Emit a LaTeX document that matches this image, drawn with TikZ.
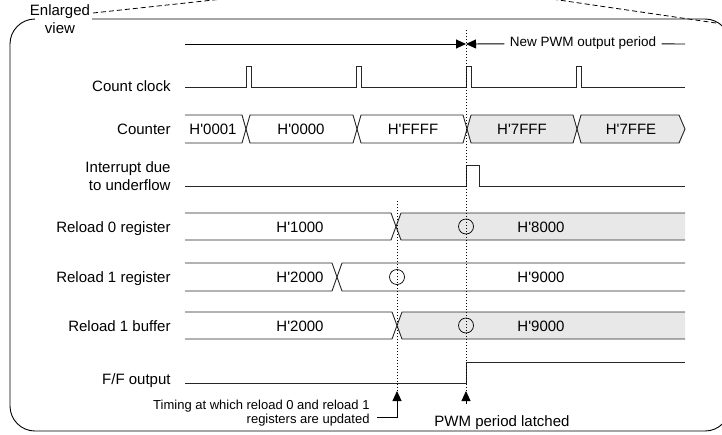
\documentclass[tikz,border=0pt]{standalone}
\usepackage{fontspec}
\setmainfont{Liberation Sans}
\usetikzlibrary{positioning,arrows.meta}

\newcommand{\hx}[1]{H\textquotesingle#1}

\begin{document}
\begin{tikzpicture}[x=1pt, y=-1pt, line width=0.9pt,
    every node/.style={font=\fontsize{15}{18}\selectfont, inner sep=0pt},
    sig/.style={draw=black!85},
    busfill/.style={fill=black!9},
    marker/.style={dash pattern=on 1pt off 2pt, line width=0.8pt},
    zoomline/.style={dash pattern=on 5pt off 3pt, line width=0.8pt},
    ring/.style={circle, draw, line width=0.7pt, minimum size=15pt},
    tip/.style={-{Triangle[length=10pt,width=9pt]}},
    rowlabel/.style={anchor=base east, align=right}]

    \useasboundingbox (0,0) rectangle (722,434);

    % frame
    \draw[rounded corners=25] (35,19) -- (10,19) -- (10,431) -- (730,431) -- (730,19) -- (92,19);
    \node[align=center] (enl) at (60,19) {Enlarged\\view};
    \coordinate (zl1) at (93,13);
    \coordinate (zl2) at (232,-2);
    \coordinate (zr1) at (545,-2);
    \coordinate (zr2) at (716,23);
    \draw[zoomline] (zl1) -- (zl2);
    \draw[zoomline] (zr1) -- (zr2);

    % row labels
    \node[rowlabel] (clk) at (171,91.5) {Count clock};
    \node[rowlabel] (cnt) at (171,134.5) {Counter};
    \node[anchor=east, align=right] (irq) at (171,176) {Interrupt due\\to underflow};
    \node[rowlabel] (rl0) at (171,232.5) {Reload 0 register};
    \node[rowlabel] (rl1) at (171,282.5) {Reload 1 register};
    \node[rowlabel] (buf) at (171,331.5) {Reload 1 buffer};
    \node[rowlabel] (ff) at (171,384.5) {F/F output};

    % new period
    \coordinate (pstart) at (185,44);
    \coordinate (pmark) at (466,44);
    \coordinate (pend) at (685,44);
    \node[inner xsep=5pt, font=\fontsize{13.5}{16}\selectfont] (newper) at (583,43.5) {New PWM output period};
    \draw[tip] (pstart) -- (pmark);
    \draw[tip] (newper) -- (pmark);
    \draw (newper) -- (pend);

    % count clock
    \draw[sig] (185,87) -| (246,66) -| (251,87) -| (356,66) -| (361,87) -| (466,66) -| (471,87)
        -| (576,66) -| (581,87) -- (685,87);

    % counter
    \fill[busfill] (471,115) -- (573,115) -- (577,129) -- (573,143) -- (471,143) -- (467,129) -- cycle;
    \fill[busfill] (581,115) -- (679,115) -- (685,129) -- (679,143) -- (581,143) -- (577,129) -- cycle;
    \draw[sig] (185,115) -- (242,115) -- (246,129) -- (242,143) -- (185,143);
    \draw[sig] (250,115) -- (353,115) -- (357,129) -- (353,143) -- (250,143) -- (246,129) -- cycle;
    \draw[sig] (361,115) -- (463,115) -- (467,129) -- (463,143) -- (361,143) -- (357,129) -- cycle;
    \draw[sig] (471,115) -- (573,115) -- (577,129) -- (573,143) -- (471,143) -- (467,129) -- cycle;
    \draw[sig] (581,115) -- (679,115) -- (685,129) -- (679,143) -- (581,143) -- (577,129) -- cycle;
    \node[anchor=base] (c1) at (213,134.5) {\hx{0001}};
    \node[anchor=base] (c2) at (301,134.5) {\hx{0000}};
    \node[anchor=base] (c3) at (413,134.5) {\hx{FFFF}};
    \node[anchor=base] (c4) at (522,134.5) {\hx{7FFF}};
    \node[anchor=base] (c5) at (631,134.5) {\hx{7FFE}};

    % interrupt
    \draw[sig] (185,186) -| (466,165) -| (479,186) -- (685,186);

    % reload 0 register
    \fill[busfill] (401,213) -- (685,213) -- (685,240) -- (401,240) -- (396,226.5) -- cycle;
    \draw[sig] (185,213) -- (391,213) -- (401,240) -- (685,240);
    \draw[sig] (185,240) -- (391,240) -- (401,213) -- (685,213);
    \node[anchor=base] (r0a) at (300,232) {\hx{1000}};
    \node[anchor=base] (r0b) at (541,232) {\hx{8000}};

    % reload 1 register
    \draw[sig] (185,263) -- (332,263) -- (342,291) -- (685,291);
    \draw[sig] (185,291) -- (332,291) -- (342,263) -- (685,263);
    \node[anchor=base] (r1a) at (300,282.5) {\hx{2000}};
    \node[anchor=base] (r1b) at (541,282.5) {\hx{9000}};

    % reload 1 buffer
    \fill[busfill] (402,312) -- (685,312) -- (685,339) -- (402,339) -- (397,325.5) -- cycle;
    \draw[sig] (185,312) -- (392,312) -- (402,339) -- (685,339);
    \draw[sig] (185,339) -- (392,339) -- (402,312) -- (685,312);
    \node[anchor=base] (b1a) at (300,331) {\hx{2000}};
    \node[anchor=base] (b1b) at (541,331) {\hx{9000}};

    % F/F output
    \draw[sig] (185,383) -| (466,362) -- (685,362);

    % markers
    \coordinate (updtop) at (397,201);
    \coordinate (updtip) at (397,391);
    \coordinate (updcorner) at (397,417);
    \coordinate (updstart) at (377,417);
    \coordinate (latchtop) at (466,30);
    \coordinate (latchtip) at (466,391);
    \coordinate (latchfoot) at (466,404);
    \draw[marker] (updtop) -- (updtip);
    \draw[marker] (latchtop) -- (latchtip);
    \node[ring] (o1) at (466,226.5) {};
    \node[ring] (o2) at (397,277) {};
    \node[ring] (o3) at (466,325.5) {};

    \draw[tip] (updstart) -- (updcorner) -- (updtip);
    \draw[tip] (latchfoot) -- (latchtip);
    \node[left=7pt of updstart, yshift=4pt, align=right, font=\fontsize{13}{14}\selectfont] (upd)
        {Timing at which reload 0 and reload 1\\registers are updated};
    \node[below=11pt of latchfoot, xshift=36pt] (latch) {PWM period latched};
\end{tikzpicture}
\end{document}
